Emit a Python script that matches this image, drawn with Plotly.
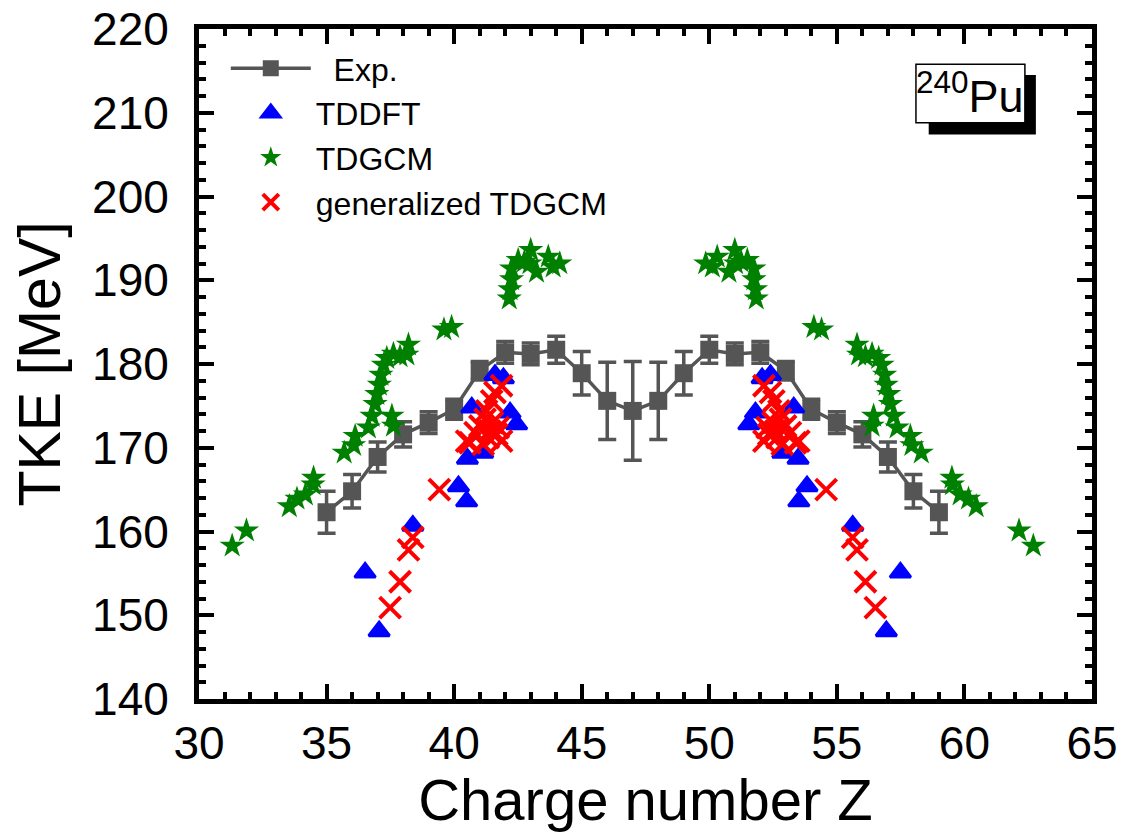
import plotly.graph_objects as go

# ---------------- data ----------------
# Experimental TKE vs fragment charge (with uncertainties)
exp_z = [35, 36, 37, 38, 39, 40, 41, 42, 43, 44, 45, 46, 47,
         48, 49, 50, 51, 52, 53, 54, 55, 56, 57, 58, 59]
exp_tke = [162.3, 164.8, 168.9, 171.6, 173.0, 174.6, 179.2, 181.4, 181.2, 181.7, 178.9, 175.6, 174.4,
           175.6, 178.9, 181.7, 181.2, 181.4, 179.2, 174.6, 173.0, 171.6, 168.9, 164.8, 162.3]
exp_err = [2.5, 2.0, 1.8, 1.5, 1.3, 1.2, 1.1, 1.3, 1.3, 1.6, 2.6, 4.6, 5.9,
           4.6, 2.6, 1.6, 1.3, 1.3, 1.1, 1.2, 1.3, 1.5, 1.8, 2.0, 2.5]

# TDDFT
tddft_z = [36.51, 37.06, 38.38, 40.17, 40.49, 40.52, 41.12, 40.69, 41.60, 41.93, 42.19, 42.45,
           57.49, 56.94, 55.62, 53.83, 53.51, 53.48, 52.88, 53.31, 52.40, 52.07, 51.81, 51.55]
tddft_tke = [155.1, 148.1, 160.7, 165.4, 163.6, 168.7, 169.4, 174.8, 178.7, 178.3, 174.2, 172.8,
             155.1, 148.1, 160.7, 165.4, 163.6, 168.7, 169.4, 174.8, 178.7, 178.3, 174.2, 172.8]

# TDGCM
tdgcm_z = [31.30, 31.86, 33.54, 33.84, 34.17, 34.47, 34.49, 35.69, 36.06, 36.12, 36.64, 36.78, 36.90,
           36.97, 37.07, 37.13, 37.23, 37.36, 37.62, 37.88, 38.15, 38.21, 37.56, 37.62, 39.60, 39.90,
           42.16, 42.19, 42.25, 42.25, 42.51, 42.75, 43.00, 42.97, 43.23, 43.69, 43.88, 44.14,
           62.70, 62.14, 60.46, 60.16, 59.83, 59.53, 59.51, 58.31, 57.94, 57.88, 57.36, 57.22, 57.10,
           57.03, 56.93, 56.87, 56.77, 56.64, 56.38, 56.12, 55.85, 55.79, 56.44, 56.38, 54.40, 54.10,
           51.84, 51.81, 51.75, 51.75, 51.49, 51.25, 51.00, 51.03, 50.77, 50.31, 50.12, 49.86]
tdgcm_tke = [158.3, 160.1, 163.0, 163.9, 164.4, 165.6, 166.4, 169.4, 170.3, 171.4, 172.4, 173.8, 175.2,
             176.4, 177.5, 178.7, 179.9, 180.7, 181.2, 180.9, 181.1, 182.3, 173.8, 172.6, 184.1, 184.4,
             187.8, 188.9, 190.1, 191.4, 192.4, 192.2, 193.6, 192.0, 191.0, 192.8, 191.6, 192.0,
             158.3, 160.1, 163.0, 163.9, 164.4, 165.6, 166.4, 169.4, 170.3, 171.4, 172.4, 173.8, 175.2,
             176.4, 177.5, 178.7, 179.9, 180.7, 181.2, 180.9, 181.1, 182.3, 173.8, 172.6, 184.1, 184.4,
             187.8, 188.9, 190.1, 191.4, 192.4, 192.2, 193.6, 192.0, 191.0, 192.8, 191.6, 192.0]

# generalized TDGCM
gtdgcm_z = [37.49, 37.88, 38.21, 38.38, 39.42,
            41.86, 41.60, 41.47, 41.27, 41.21, 41.01, 40.82, 41.67, 41.34, 40.62, 41.14, 41.86, 41.73,
            41.50, 41.40, 40.49,
            56.51, 56.12, 55.79, 55.62, 54.58,
            52.14, 52.40, 52.53, 52.73, 52.79, 52.99, 53.18, 52.33, 52.66, 53.38, 52.86, 52.14, 52.27,
            52.50, 52.60, 53.51]
gtdgcm_tke = [150.9, 154.0, 157.8, 159.3, 165.0,
              177.4, 176.6, 175.6, 174.4, 173.4, 172.6, 171.8, 171.6, 171.2, 170.6, 170.4, 170.8, 172.4,
              173.0, 172.0, 170.8,
              150.9, 154.0, 157.8, 159.3, 165.0,
              177.4, 176.6, 175.6, 174.4, 173.4, 172.6, 171.8, 171.6, 171.2, 170.6, 170.4, 170.8, 172.4,
              173.0, 172.0, 170.8]

FONT = "Liberation Sans, Arial, sans-serif"
GRAY = "#555555"

fig = go.Figure()

fig.add_trace(go.Scatter(
    x=exp_z, y=exp_tke, mode="lines+markers", name="\u00a0\u00a0Exp.",
    line=dict(color=GRAY, width=3.5),
    marker=dict(symbol="square", size=18, color=GRAY),
    error_y=dict(type="data", array=exp_err, visible=True, color=GRAY, thickness=3.5, width=9),
))
fig.add_trace(go.Scatter(
    x=tddft_z, y=tddft_tke, mode="markers", name="TDDFT",
    marker=dict(symbol="triangle-up", size=18, color="#0000FF",
                line=dict(color="#0000FF", width=3)),
))
fig.add_trace(go.Scatter(
    x=tdgcm_z, y=tdgcm_tke, mode="markers", name="TDGCM",
    marker=dict(symbol="star", size=19, color="#008000", line=dict(width=0)),
))
fig.add_trace(go.Scatter(
    x=gtdgcm_z, y=gtdgcm_tke, mode="markers", name="generalized TDGCM",
    marker=dict(symbol="x-thin", size=21, color="#FF0000",
                line=dict(color="#FF0000", width=4)),
))

axis_common = dict(
    showline=True, linecolor="black", linewidth=5, mirror="ticks",
    ticks="inside", ticklen=15, tickwidth=4, tickcolor="black",
    showgrid=False, zeroline=False,
    tickfont=dict(family=FONT, size=46, color="black"),
)

fig.update_xaxes(
    range=[30, 65], tick0=30, dtick=5,
    minor=dict(dtick=1, ticks="inside", ticklen=7, tickwidth=4, tickcolor="black"),
    title=dict(text="Charge number Z", font=dict(family=FONT, size=58, color="black"), standoff=10),
    ticklabelstandoff=0,
    **axis_common,
)
fig.update_yaxes(
    range=[140, 220], tick0=140, dtick=10,
    minor=dict(dtick=2, ticks="inside", ticklen=7, tickwidth=4, tickcolor="black"),
    title=dict(text="TKE [MeV]", font=dict(family=FONT, size=59, color="black"), standoff=14),
    ticklabelstandoff=16,
    **axis_common,
)

# nuclide label with drop shadow
fig.add_shape(type="rect", xref="x", yref="y", x0=58.6, x1=62.8, y0=207.4, y1=214.5,
              fillcolor="black", line=dict(width=0), layer="above")
fig.add_shape(type="rect", xref="x", yref="y", x0=58.1, x1=62.37, y0=208.8, y1=215.8,
              fillcolor="white", line=dict(color="black", width=1.5), layer="above")
fig.add_annotation(x=60.2, y=212.3, xref="x", yref="y", showarrow=False,
                   text="<sup>240</sup>Pu",
                   font=dict(family=FONT, size=45, color="black"))

fig.update_layout(
    width=1123, height=832,
    margin=dict(l=199, r=31, t=29, b=133, autoexpand=False),
    paper_bgcolor="white", plot_bgcolor="white",
    showlegend=True,
    legend=dict(x=0.03, y=0.982, xanchor="left", yanchor="top",
                bgcolor="rgba(0,0,0,0)", borderwidth=0,
                font=dict(family=FONT, size=32, color="black"),
                itemwidth=80, itemsizing="trace"),
)

fig.write_html("out.html")
